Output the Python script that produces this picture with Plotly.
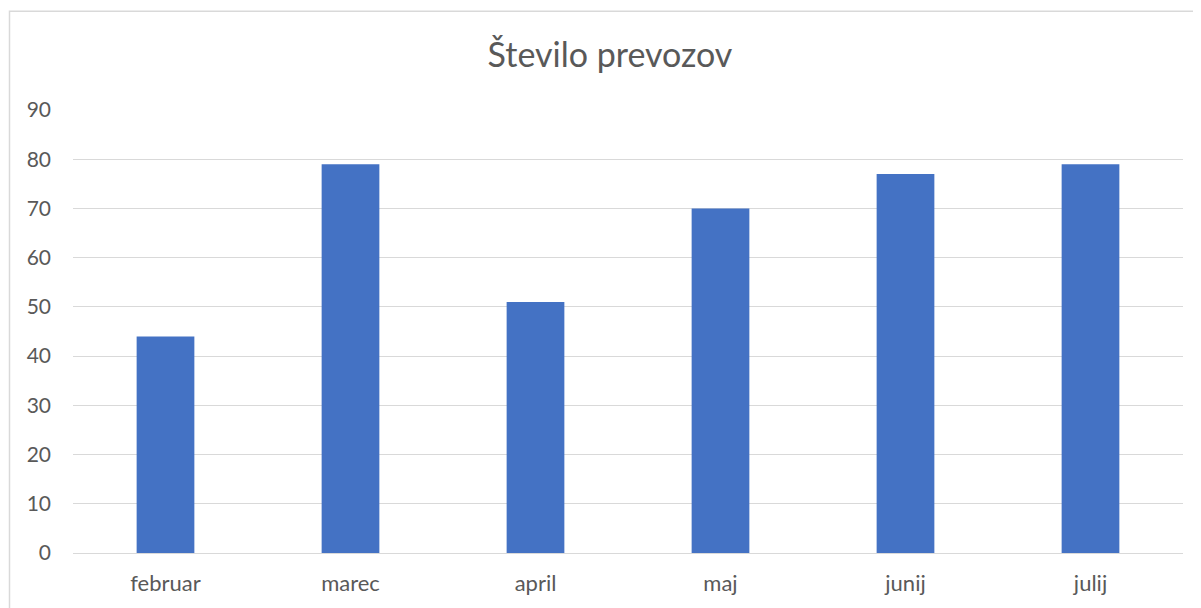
import plotly.graph_objects as go

months = ["februar", "marec", "april", "maj", "junij", "julij"]
values = [44, 79, 51, 70, 77, 79]
y_ticks = [0, 10, 20, 30, 40, 50, 60, 70, 80, 90]

FONT = "Lato, 'Open Sans', sans-serif"
GRAY = "#595959"

fig = go.Figure()
fig.add_trace(go.Bar(x=months, y=values, marker=dict(color="#4472c4", line=dict(width=0))))

# page body has an 8px margin; figure sized so it ends at the window edge
W, H = 1193, 600
L, R, T, B = 65, 18, 102, 52
pw, ph = W - L - R, H - T - B

fig.update_layout(
    width=W, height=H,
    margin=dict(l=L, r=R, t=T, b=B),
    paper_bgcolor="white", plot_bgcolor="white",
    bargap=0.688,
    showlegend=False,
    title=dict(text="Število prevozov", x=(610 - 8) / W, xanchor="center", y=1 - 47 / H, yanchor="middle",
               font=dict(family=FONT, size=34, color=GRAY)),
    font=dict(family=FONT, color=GRAY, size=22),
    xaxis=dict(showgrid=False, showline=True, linecolor="#d9d9d9", linewidth=1,
               ticks="", ticklabelstandoff=11, tickfont=dict(size=22, color=GRAY)),
    yaxis=dict(range=[0, 90], tickvals=y_ticks, showgrid=True, gridcolor="#d9d9d9", gridwidth=1,
               zeroline=False, showline=False, ticks="", ticklabelstandoff=21,
               tickfont=dict(size=21, color=GRAY)),
)

fig.add_shape(type="rect", xref="paper", yref="paper",
              x0=(1.5 - L) / pw, x1=(W + 5 - L) / pw,
              y0=-(H + 5 - (H - B)) / ph, y1=(H - B - 2.5) / ph,
              line=dict(color="#d9d9d9", width=1.5), fillcolor="rgba(0,0,0,0)", layer="below")

fig.write_html("out.html")
